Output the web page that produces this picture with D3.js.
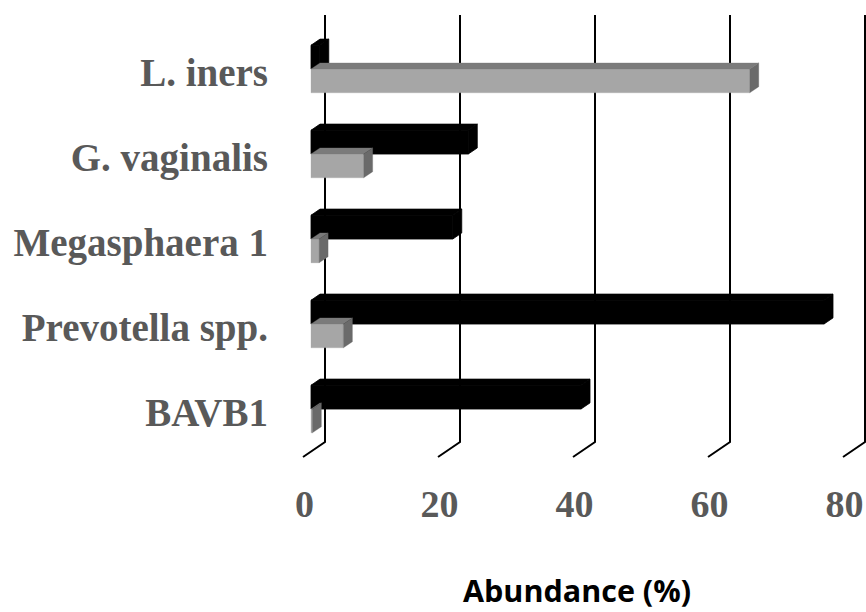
<!DOCTYPE html>
<html>
<head>
<meta charset="utf-8">
<script src="https://cdn.jsdelivr.net/npm/d3@7/dist/d3.min.js"></script>
<style>
  html, body { margin: 0; padding: 0; background: #ffffff; }
  svg { display: block; }
</style>
</head>
<body>
<svg id="chart" width="866" height="612"></svg>
<script>
// ---- data ----
const categories = ["L. iners", "G. vaginalis", "Megasphaera 1", "Prevotella spp.", "BAVB1"];
const seriesBlack = [1.3, 23.3, 21.0, 76.0, 40.0];
const seriesGray  = [65.0, 7.8, 1.2, 4.8, 0.2];
const xTicks = [0, 20, 40, 60, 80];
const xTitle = "Abundance (%)";

// ---- layout ----
const svg = d3.select("#chart");
const backTop = 15, backBottom = 442;
const DEPTH = { dx: -22, dy: 15 };          // back wall -> front of floor
const fFront = 0.636, fBack = 0.227;         // bar depth fractions

const x = d3.scaleLinear().domain([0, 80]).range([325, 865]);
const y = d3.scaleBand().domain(categories).range([17, 442]).padding(0);

function P(v, yb, f) {
  return [x(v) + f * DEPTH.dx, yb + f * DEPTH.dy];
}
const poly = pts => "M" + pts.map(p => p[0].toFixed(2) + "," + p[1].toFixed(2)).join("L") + "Z";

// ---- gridlines (back wall + floor diagonal) ----
const grid = svg.append("g").attr("stroke", "#000").attr("stroke-width", 2).attr("fill", "none");
xTicks.forEach(t => {
  grid.append("path")
    .attr("d", `M${x(t)},${backTop}L${x(t)},${backBottom}L${x(t) + DEPTH.dx},${backBottom + DEPTH.dy}`)
    .attr("stroke-linejoin", "miter");
});

// ---- bars ----
const barH = y.bandwidth() * 0.28;
const bars = svg.append("g");

function drawBar(v, t, b, colors) {
  const g = bars.append("g").attr("stroke-width", colors.sw).attr("stroke-linejoin", "round");
  const faces = [
    { pts: [P(0, t, fFront), P(v, t, fFront), P(v, b, fFront), P(0, b, fFront)], c: colors.front },
    { pts: [P(0, t, fFront), P(0, t, fBack), P(v, t, fBack), P(v, t, fFront)], c: colors.top },
    { pts: [P(v, t, fFront), P(v, t, fBack), P(v, b, fBack), P(v, b, fFront)], c: colors.side }
  ];
  faces.forEach(f => {
    g.append("path").attr("d", poly(f.pts)).attr("fill", f.c).attr("stroke", f.c);
  });
}

const blackColors = { front: "#000000", top: "#000000", side: "#000000", sw: 0.8 };
const grayColors  = { front: "#a6a6a6", top: "#7b7b7b", side: "#6a6a6a", sw: 0.3 };

categories.forEach((c, i) => {
  const mid = y(c) + y.bandwidth() / 2;
  drawBar(seriesBlack[i], mid - barH, mid, blackColors);
  drawBar(seriesGray[i], mid, mid + barH, grayColors);
});

// ---- category labels ----
svg.append("g").selectAll("text").data(categories).join("text")
  .attr("x", 268)
  .attr("y", d => y(d) + y.bandwidth() / 2 + fFront * DEPTH.dy + 17)
  .attr("text-anchor", "end")
  .attr("font-family", "'Liberation Serif', 'DejaVu Serif', serif")
  .attr("font-weight", "bold")
  .attr("font-size", 39)
  .attr("fill", "#595959")
  .text(d => d);

// ---- tick labels ----
svg.append("g").selectAll("text").data(xTicks).join("text")
  .attr("x", d => x(d) + DEPTH.dx + 1.5)
  .attr("y", 517)
  .attr("text-anchor", "middle")
  .attr("font-family", "'Liberation Serif', 'DejaVu Serif', serif")
  .attr("font-weight", "bold")
  .attr("font-size", 38)
  .attr("fill", "#595959")
  .text(d => d);

// ---- axis title ----
svg.append("text")
  .attr("x", 577)
  .attr("y", 602)
  .attr("text-anchor", "middle")
  .attr("font-family", "'Open Sans', 'Liberation Sans', sans-serif")
  .attr("font-weight", "bold")
  .attr("font-size", 30.5)
  .attr("fill", "#000")
  .text(xTitle);
</script>
</body>
</html>
